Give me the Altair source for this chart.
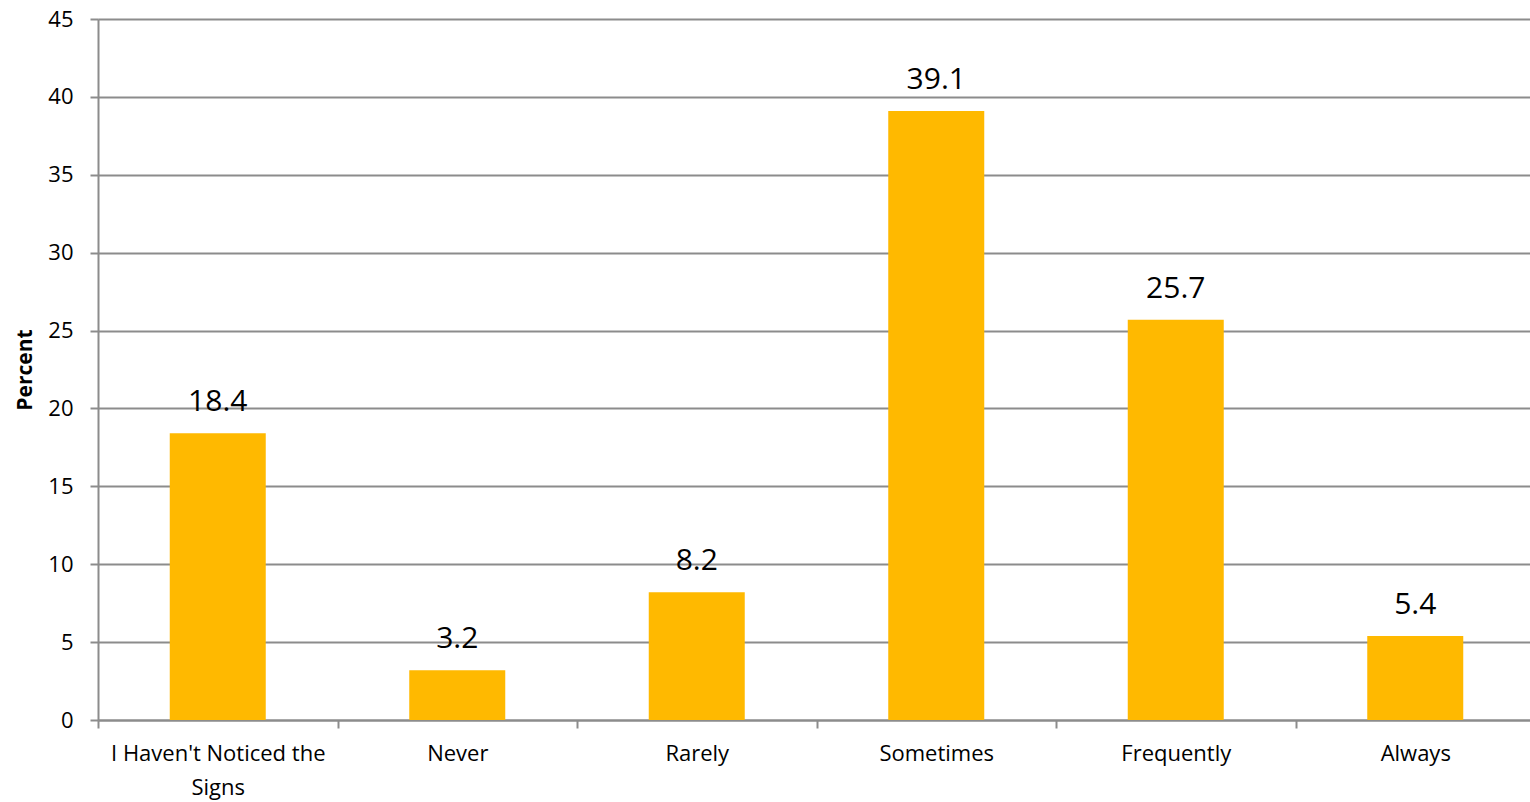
import altair as alt
import pandas as pd

categories = ["I Haven't Noticed the Signs", "Never", "Rarely", "Sometimes", "Frequently", "Always"]
values = [18.4, 3.2, 8.2, 39.1, 25.7, 5.4]

df = pd.DataFrame({"cat": categories, "val": values})

FONT = "Open Sans"
GRAY = "#8C8C8C"

x = alt.X("cat:N", sort=categories, title=None,
          scale=alt.Scale(paddingInner=0, paddingOuter=0, range=[0, 1437]),
          axis=alt.Axis(labelAngle=0, labelFont=FONT, labelFontSize=22, labelColor="#000000",
                        labelPadding=15, tickBand="extent", tickSize=8, tickColor=GRAY, tickWidth=2,
                        domainColor=GRAY, domainWidth=2, grid=False, labelLimit=400,
                        labelExpr="datum.label == \"I Haven't Noticed the Signs\" ? [\"I Haven't Noticed the\", 'Signs'] : datum.label",
                        labelLineHeight=34))
y = alt.Y("val:Q", title="Percent",
          scale=alt.Scale(domain=[0, 45], nice=False),
          axis=alt.Axis(values=list(range(0, 46, 5)), labelFont=FONT, labelFontSize=22, labelColor="#000000",
                        labelPadding=17, tickSize=8, tickColor=GRAY, tickWidth=2,
                        domainColor=GRAY, domainWidth=2, gridColor=GRAY, gridWidth=2,
                        titleFont=FONT, titleFontSize=21, titleFontWeight="bold", titleColor="#000000",
                        titlePadding=12))

bars = alt.Chart(df).mark_bar(color="#FFB900", size=96).encode(x=x, y=y)
labels = alt.Chart(df).mark_text(font=FONT, fontSize=30, baseline="alphabetic", dy=-22, color="#000000").encode(
    x=alt.X("cat:N", sort=categories), y="val:Q", text=alt.Text("val:Q", format=".1f"))

chart = (bars + labels).properties(
    width=1432, height=701,
    autosize=alt.AutoSizeParams(type="none"),
    padding={"left": 98, "top": 19, "right": 0, "bottom": 82},
).configure_view(stroke=None).configure(background="white")

chart.save("out.html", embed_options={"renderer": "svg", "actions": False})
